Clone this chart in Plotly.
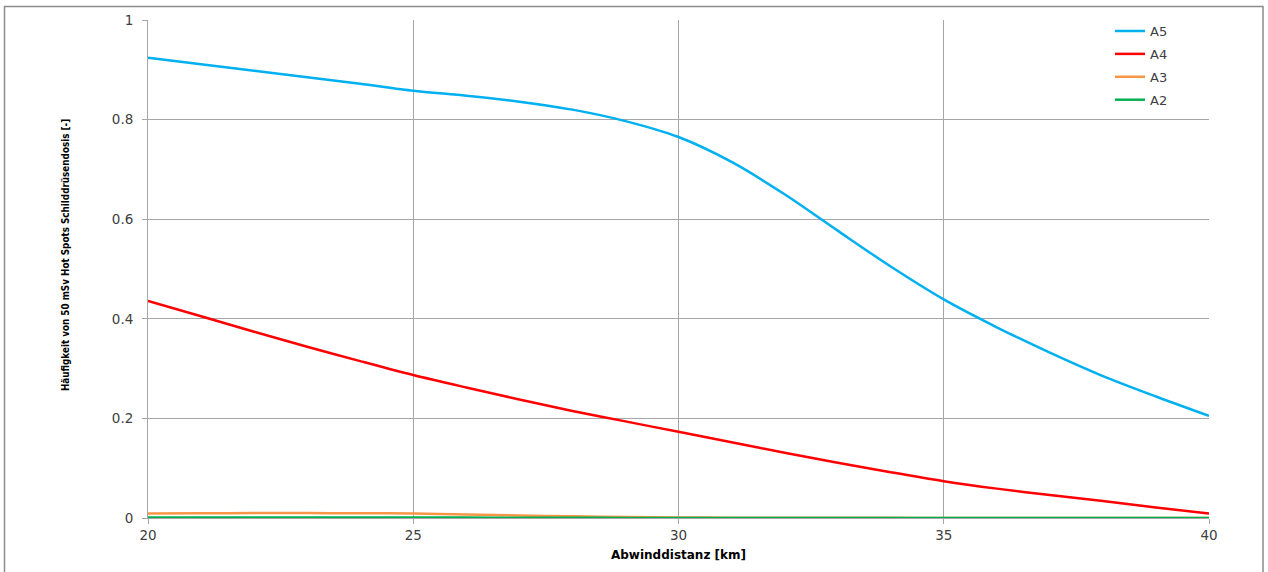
import plotly.graph_objects as go

distance_km = [20, 21, 22, 23, 24, 25, 26, 27, 28, 29, 30, 31, 32, 33, 34, 35, 36, 37, 38, 39, 40]
a5 = [0.924, 0.911, 0.898, 0.885, 0.872, 0.858, 0.848, 0.836, 0.820, 0.797, 0.765, 0.715, 0.650, 0.577,
      0.505, 0.439, 0.383, 0.332, 0.285, 0.244, 0.205]
a4 = [0.436, 0.405, 0.374, 0.344, 0.315, 0.287, 0.262, 0.238, 0.215, 0.194, 0.173, 0.152, 0.131, 0.111,
      0.092, 0.074, 0.059, 0.046, 0.034, 0.021, 0.009]
a3 = [0.009, 0.0095, 0.010, 0.010, 0.0095, 0.009, 0.007, 0.005, 0.0035, 0.002, 0.001, 0.0007, 0.0005,
      0.0004, 0.0003, 0.0002, 0.0002, 0.0001, 0.0001, 0.0001, 0.0001]
a2 = [0.001, 0.001, 0.001, 0.001, 0.001, 0.001, 0.0008, 0.0006, 0.0004, 0.0002, 0.0001, 0.0001, 0.0,
      0.0, 0.0, 0.0, 0.0, 0.0, 0.0, 0.0, 0.0]

series = [("A5", a5, "#00B0F0"), ("A4", a4, "#FF0000"), ("A3", a3, "#F79646"), ("A2", a2, "#00B050")]

x_ticks = [20, 25, 30, 35, 40]
y_ticks = [0, 0.2, 0.4, 0.6, 0.8, 1]
y_tick_text = ["0", "0.2", "0.4", "0.6", "0.8", "1"]
x_title = "Abwinddistanz [km]"
y_title = "Häufigkeit von 50 mSv Hot Spots Schilddrüsendosis [-]"

fig = go.Figure()
for name, vals, col in series:
    fig.add_trace(go.Scatter(x=distance_km, y=vals, name=name, mode="lines", legendgroup=name,
                             line=dict(color=col, width=2.5, shape="spline", smoothing=0.8)))

W, H = 1268, 572
L, R, T, B = 148, 59, 17, 53
pw, ph = W - L - R, H - T - B

def px_to_paper_x(px):
    return (px - L) / pw

def px_to_paper_y(py):
    return (H - B - py) / ph

tick_font = dict(family="DejaVu Sans", size=13.5, color="#404040")
fig.update_layout(
    width=W, height=H,
    margin=dict(l=L, r=R, t=T, b=B),
    paper_bgcolor="white", plot_bgcolor="white",
    showlegend=True,
    legend=dict(x=px_to_paper_x(1110), y=px_to_paper_y(13), xanchor="left", yanchor="top",
                bgcolor="rgba(0,0,0,0)", font=dict(family="DejaVu Sans", size=13, color="#404040"),
                tracegroupgap=3, itemwidth=30),
    xaxis=dict(range=[20, 40], tickvals=x_ticks, ticktext=[str(v) for v in x_ticks],
               showgrid=True, gridcolor="#A6A6A6", gridwidth=1,
               showline=True, linecolor="#A6A6A6", linewidth=1,
               ticks="outside", ticklen=5, tickcolor="#A6A6A6", tickfont=tick_font,
               zeroline=False,
               title=dict(text="<b>" + x_title + "</b>", standoff=8,
                          font=dict(family="DejaVu Sans", size=12, color="#000000"))),
    yaxis=dict(range=[0, 1], tickvals=y_ticks, ticktext=y_tick_text,
               showgrid=True, gridcolor="#A6A6A6", gridwidth=1,
               showline=True, linecolor="#A6A6A6", linewidth=1,
               ticks="outside", ticklen=5, tickcolor="#A6A6A6", tickfont=tick_font,
               ticklabelstandoff=6, zeroline=False),
)

fig.add_annotation(text="<b>" + y_title + "</b>", textangle=-90, showarrow=False,
                   xref="paper", yref="paper", x=px_to_paper_x(65), y=px_to_paper_y(254),
                   xanchor="center", yanchor="middle",
                   font=dict(family="Liberation Sans Narrow, DejaVu Sans Condensed, sans-serif",
                             size=9.8, color="#000000"))

fig.add_shape(type="rect", xref="paper", yref="paper",
              x0=px_to_paper_x(4.5), x1=px_to_paper_x(1263), y0=px_to_paper_y(590), y1=px_to_paper_y(3.5),
              line=dict(color="#8C8C8C", width=1.5), fillcolor="rgba(0,0,0,0)", layer="below")

fig.write_html("out.html", config={"displayModeBar": False},
               post_script="document.body.style.margin='0';")
